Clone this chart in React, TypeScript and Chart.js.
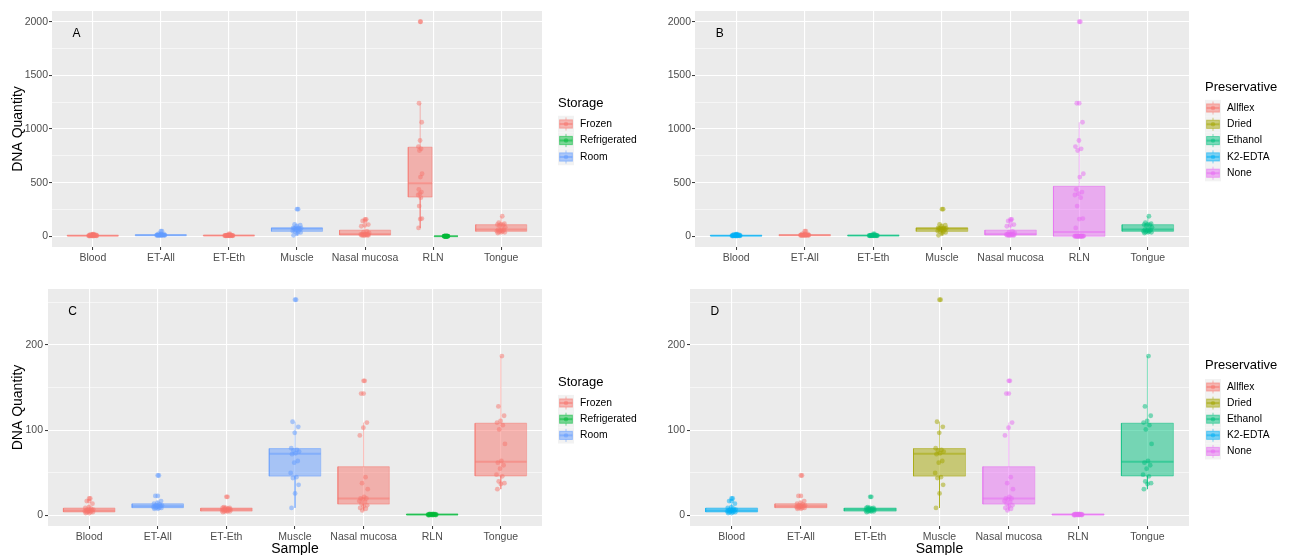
import React, { useEffect, useRef } from 'react';
import { Chart, registerables } from 'chart.js';

Chart.register(...registerables);
Chart.defaults.font.family = '"Liberation Sans", Arial, sans-serif';

// ---------------- data ----------------
const categories = ['Blood', 'ET-All', 'ET-Eth', 'Muscle', 'Nasal mucosa', 'RLN', 'Tongue'];

const bloodValues = [20, 17, 14, 10, 9, 8, 7, 7, 6, 6, 6, 5, 5, 4, 4, 4, 3, 3];
const etAllValues = [47, 23, 17, 15, 14, 13, 12, 12, 11, 11, 11, 10, 10, 9, 9, 9, 8, 8];
const etEthValues = [22, 10, 9, 9, 9, 8, 8, 7, 7, 7, 7, 6, 6, 5, 5, 5, 5, 4];
const muscleValues = [253, 110, 104, 97, 79, 77, 76, 75, 73, 72, 64, 62, 50, 45, 44, 36, 26, 9];
const nasalValues = [158, 143, 109, 103, 94, 45, 38, 31, 22, 20, 20, 19, 17, 16, 14, 12, 11, 9, 8, 6];
const rlnFrozenValues = [2000, 1240, 1063, 893, 836, 815, 800, 583, 552, 437, 412, 397, 385, 360, 282, 165, 161, 78];
const rlnFridgeValues = [2, 2, 1.8, 1.6, 1.5, 1.4, 1.3, 1.2, 1.2, 1.1, 1, 1, 0.9, 0.8, 0.7, 0.6, 0.5, 0.4];
const tongueValues = [187, 128, 117, 111, 109, 106, 101, 84, 64, 62, 59, 55, 48, 46, 40, 38, 37, 31];

const storageLevels = ['Frozen', 'Refrigerated', 'Room'];
const storageColors = ['#F8766D', '#00BA38', '#619CFF'];
const preservativeLevels = ['Allflex', 'Dried', 'Ethanol', 'K2-EDTA', 'None'];
const preservativeColors = ['#F8766D', '#A3A500', '#00BF7D', '#00B0F6', '#E76BF3'];

const yTicksFull = [0, 250, 500, 750, 1000, 1250, 1500, 1750, 2000];
const yTicksZoom = [0, 50, 100, 150, 200, 250];

// ---------------- helpers ----------------
type Group = { cat: number; dodge: number; width: number; color: string; values: number[] };

function rgba(hex: string, a: number) {
  const n = parseInt(hex.slice(1), 16);
  return `rgba(${(n >> 16) & 255},${(n >> 8) & 255},${n & 255},${a})`;
}

function quantile(s: number[], p: number) {
  const h = (s.length - 1) * p;
  const lo = Math.floor(h);
  const hi = Math.min(lo + 1, s.length - 1);
  return s[lo] + (h - lo) * (s[hi] - s[lo]);
}

function boxStats(values: number[]) {
  const s = [...values].sort((a, b) => a - b);
  const q1 = quantile(s, 0.25);
  const med = quantile(s, 0.5);
  const q3 = quantile(s, 0.75);
  const iqr = q3 - q1;
  const lf = q1 - 1.5 * iqr;
  const hf = q3 + 1.5 * iqr;
  const inside = s.filter((v) => v >= lf && v <= hf);
  return {
    q1, med, q3,
    lo: inside[0],
    hi: inside[inside.length - 1],
    outliers: s.filter((v) => v < lf || v > hf),
  };
}

function jitter(i: number, spread: number) {
  const f = ((i + 1) * 0.6180339887) % 1;
  return (f * 2 - 1) * spread;
}

function groupDatasets(g: Group) {
  const st = boxStats(g.values);
  const c = g.cat + g.dodge;
  const h = g.width / 2;
  const col = rgba(g.color, 0.5);
  const gap = { x: c, y: null as any };
  const spread = g.width * 0.09;
  return [
    {
      type: 'line', order: 4,
      data: [{ x: c - h, y: st.q3 }, { x: c + h, y: st.q3 }],
      fill: { value: st.q1 }, backgroundColor: col,
      borderColor: 'rgba(0,0,0,0)', borderWidth: 0, pointRadius: 0,
    },
    {
      type: 'line', order: 3,
      data: [
        { x: c - h, y: st.q1 }, { x: c + h, y: st.q1 }, { x: c + h, y: st.q3 }, { x: c - h, y: st.q3 }, { x: c - h, y: st.q1 },
        gap,
        { x: c, y: st.q3 }, { x: c, y: st.hi },
        gap,
        { x: c, y: st.q1 }, { x: c, y: st.lo },
      ],
      fill: false, borderColor: col, borderWidth: 1, pointRadius: 0, spanGaps: false,
    },
    {
      type: 'line', order: 2,
      data: [{ x: c - h, y: st.med }, { x: c + h, y: st.med }],
      fill: false, borderColor: col, borderWidth: 2, pointRadius: 0,
    },
    {
      type: 'line', order: 1, showLine: false,
      data: st.outliers.map((v) => ({ x: c, y: v })),
      pointRadius: 2.4, pointBackgroundColor: col, pointBorderWidth: 0, pointBorderColor: 'rgba(0,0,0,0)',
    },
    {
      type: 'line', order: 0, showLine: false,
      data: g.values.map((v, i) => ({ x: c + jitter(i, spread), y: v })),
      pointRadius: 2.4, pointBackgroundColor: col, pointBorderWidth: 0, pointBorderColor: 'rgba(0,0,0,0)',
    },
  ];
}

const full = 0.75;
const groupsA: Group[] = [
  { cat: 1, dodge: 0, width: full, color: storageColors[0], values: bloodValues },
  { cat: 2, dodge: 0, width: full, color: storageColors[2], values: etAllValues },
  { cat: 3, dodge: 0, width: full, color: storageColors[0], values: etEthValues },
  { cat: 4, dodge: 0, width: full, color: storageColors[2], values: muscleValues },
  { cat: 5, dodge: 0, width: full, color: storageColors[0], values: nasalValues },
  { cat: 6, dodge: -0.19, width: 0.35, color: storageColors[0], values: rlnFrozenValues },
  { cat: 6, dodge: 0.19, width: 0.35, color: storageColors[1], values: rlnFridgeValues },
  { cat: 7, dodge: 0, width: full, color: storageColors[0], values: tongueValues },
];
const groupsB: Group[] = [
  { cat: 1, dodge: 0, width: full, color: preservativeColors[3], values: bloodValues },
  { cat: 2, dodge: 0, width: full, color: preservativeColors[0], values: etAllValues },
  { cat: 3, dodge: 0, width: full, color: preservativeColors[2], values: etEthValues },
  { cat: 4, dodge: 0, width: full, color: preservativeColors[1], values: muscleValues },
  { cat: 5, dodge: 0, width: full, color: preservativeColors[4], values: nasalValues },
  { cat: 6, dodge: 0, width: full, color: preservativeColors[4], values: [...rlnFrozenValues, ...rlnFridgeValues] },
  { cat: 7, dodge: 0, width: full, color: preservativeColors[2], values: tongueValues },
];
const groupsC: Group[] = groupsA
  .filter((g) => g.values !== rlnFrozenValues)
  .map((g) => (g.values === rlnFridgeValues ? { ...g, dodge: 0, width: full } : g));
const groupsD: Group[] = groupsB.map((g) => (g.cat === 6 ? { ...g, values: rlnFridgeValues } : g));

type Panel = {
  letter: string; x: number; y: number; w: number; h: number;
  yAxisWidth: number; xAxisHeight: number; padTop: number; padRight: number;
  groups: Group[]; yTicks: number[]; majorStep: number; yFont: number; yPad: number;
  yTitle: boolean; xTitle: boolean;
  legend: { title: string; levels: string[]; colors: string[]; x: number; labelX: number; titleY: number; keyY0: number; keyStep: number };
};

const panels: Panel[] = [
  {
    letter: 'A', x: 0, y: 0, w: 645, h: 277, yAxisWidth: 52, xAxisHeight: 30, padTop: 11, padRight: 103,
    groups: groupsA, yTicks: yTicksFull, majorStep: 500, yFont: 10.5, yPad: 1, yTitle: true, xTitle: false,
    legend: { title: 'Storage', levels: storageLevels, colors: storageColors, x: 558, labelX: 580, titleY: 103.5, keyY0: 124, keyStep: 16.5 },
  },
  {
    letter: 'B', x: 645, y: 0, w: 648, h: 277, yAxisWidth: 50, xAxisHeight: 30, padTop: 11, padRight: 104,
    groups: groupsB, yTicks: yTicksFull, majorStep: 500, yFont: 10.5, yPad: 1, yTitle: false, xTitle: false,
    legend: { title: 'Preservative', levels: preservativeLevels, colors: preservativeColors, x: 560, labelX: 582, titleY: 87, keyY0: 108, keyStep: 16.3 },
  },
  {
    letter: 'C', x: 0, y: 277, w: 645, h: 290, yAxisWidth: 48, xAxisHeight: 41, padTop: 12, padRight: 103,
    groups: groupsC, yTicks: yTicksZoom, majorStep: 100, yFont: 10.5, yPad: 2, yTitle: true, xTitle: true,
    legend: { title: 'Storage', levels: storageLevels, colors: storageColors, x: 558, labelX: 580, titleY: 105, keyY0: 126, keyStep: 16.2 },
  },
  {
    letter: 'D', x: 645, y: 277, w: 648, h: 290, yAxisWidth: 45, xAxisHeight: 41, padTop: 12, padRight: 104,
    groups: groupsD, yTicks: yTicksZoom, majorStep: 100, yFont: 10.5, yPad: 2, yTitle: false, xTitle: true,
    legend: { title: 'Preservative', levels: preservativeLevels, colors: preservativeColors, x: 560, labelX: 582, titleY: 88, keyY0: 110, keyStep: 16.1 },
  },
];

const FONT = '"Liberation Sans", Arial, sans-serif';

function drawLegend(ctx: CanvasRenderingContext2D, lg: Panel['legend']) {
  ctx.save();
  ctx.textAlign = 'left';
  ctx.textBaseline = 'middle';
  ctx.fillStyle = '#000';
  ctx.font = `13px ${FONT}`;
  ctx.fillText(lg.title, lg.x, lg.titleY);
  const kw = 16;
  lg.levels.forEach((lab, i) => {
    const kh = lg.keyStep;
    const cy = lg.keyY0 + i * kh;
    const kx = lg.x;
    ctx.fillStyle = '#F2F2F2';
    ctx.fillRect(kx, cy - kh / 2, kw, kh);
    const col = rgba(lg.colors[i], 0.5);
    ctx.strokeStyle = col;
    ctx.lineWidth = 1;
    ctx.beginPath();
    ctx.moveTo(kx + kw / 2, cy - kh * 0.4);
    ctx.lineTo(kx + kw / 2, cy - kh * 0.25);
    ctx.moveTo(kx + kw / 2, cy + kh * 0.25);
    ctx.lineTo(kx + kw / 2, cy + kh * 0.4);
    ctx.stroke();
    ctx.fillStyle = col;
    ctx.fillRect(kx + kw * 0.1, cy - kh * 0.25, kw * 0.8, kh * 0.5);
    ctx.strokeRect(kx + kw * 0.1, cy - kh * 0.25, kw * 0.8, kh * 0.5);
    ctx.lineWidth = 2;
    ctx.beginPath();
    ctx.moveTo(kx + kw * 0.1, cy);
    ctx.lineTo(kx + kw * 0.9, cy);
    ctx.stroke();
    ctx.beginPath();
    ctx.arc(kx + kw / 2, cy, 2.2, 0, Math.PI * 2);
    ctx.fill();
    ctx.fillStyle = '#000';
    ctx.font = `10.3px ${FONT}`;
    ctx.fillText(lab, lg.labelX, cy);
  });
  ctx.restore();
}

function buildConfig(p: Panel): any {
  const datasets = p.groups.flatMap((g) => groupDatasets(g));
  const all = p.groups.flatMap((g) => g.values);
  const dmin = Math.min(...all);
  const dmax = Math.max(...all);
  const yMin = dmin - 0.05 * (dmax - dmin);
  const yMax = dmax + 0.05 * (dmax - dmin);
  const isMajor = (v: number) => Math.abs(v % p.majorStep) < 1e-9;

  const decor = {
    id: 'decor' + p.letter,
    beforeDraw(chart: any) {
      const { ctx, chartArea: a } = chart;
      ctx.save();
      ctx.fillStyle = '#FFFFFF';
      ctx.fillRect(0, 0, chart.width, chart.height);
      ctx.fillStyle = '#EBEBEB';
      ctx.fillRect(a.left, a.top, a.right - a.left, a.bottom - a.top);
      ctx.restore();
    },
    afterDraw(chart: any) {
      const { ctx } = chart;
      const xs = chart.scales.x;
      const ys = chart.scales.y;
      ctx.save();
      ctx.fillStyle = '#000';
      ctx.font = `12px ${FONT}`;
      ctx.textAlign = 'center';
      ctx.textBaseline = 'middle';
      ctx.fillText(p.letter, xs.getPixelForValue(0.76), ys.getPixelForValue(yMax - 0.0975 * (yMax - yMin)));
      ctx.restore();
      drawLegend(ctx, p.legend);
    },
  };

  return {
    type: 'line',
    data: { datasets },
    options: {
      animation: false,
      responsive: false,
      events: [],
      layout: { padding: { left: 0, top: p.padTop, right: p.padRight, bottom: 0 } },
      plugins: { legend: { display: false }, tooltip: { enabled: false } },
      scales: {
        x: {
          type: 'linear', min: 0.4, max: 7.6,
          afterBuildTicks: (s: any) => { s.ticks = categories.map((_, i) => ({ value: i + 1 })); },
          afterFit: (s: any) => { s.height = p.xAxisHeight; },
          ticks: {
            callback: (v: number) => categories[Math.round(v) - 1] ?? '',
            autoSkip: false, maxRotation: 0, minRotation: 0,
            color: '#4D4D4D', font: { size: 10.5 }, padding: 2,
          },
          grid: { color: '#FFFFFF', lineWidth: 1.1, tickColor: '#333333', tickLength: 3, tickWidth: 1 },
          border: { display: false },
          title: p.xTitle
            ? { display: true, text: 'Sample', color: '#000', font: { size: 14 }, padding: { top: 0, bottom: 9 } }
            : { display: false },
        },
        y: {
          type: 'linear', min: yMin, max: yMax,
          afterBuildTicks: (s: any) => { s.ticks = p.yTicks.map((v) => ({ value: v })); },
          afterFit: (s: any) => { s.width = p.yAxisWidth; },
          ticks: {
            callback: (v: number) => (isMajor(v) ? String(v) : ''),
            color: '#4D4D4D', font: { size: p.yFont }, padding: p.yPad,
          },
          grid: {
            color: '#FFFFFF',
            lineWidth: (c: any) => (c.tick && isMajor(c.tick.value) ? 1.1 : 0.55),
            tickColor: (c: any) => (c.tick && isMajor(c.tick.value) ? '#333333' : 'rgba(0,0,0,0)'),
            tickLength: 3, tickWidth: 1,
          },
          border: { display: false },
          title: p.yTitle
            ? { display: true, text: 'DNA Quantity', color: '#000', font: { size: 14 }, padding: { top: 9.6, bottom: 0 } }
            : { display: false },
        },
      },
    },
    plugins: [decor],
  };
}

export default function App() {
  const refs = useRef<(HTMLCanvasElement | null)[]>([]);
  useEffect(() => {
    const charts = panels.map((p, i) => new Chart(refs.current[i] as HTMLCanvasElement, buildConfig(p)));
    return () => charts.forEach((c) => c.destroy());
  }, []);
  return (
    <div style={{ position: 'absolute', left: 0, top: 0, width: 1293, height: 555, overflow: 'hidden', background: '#FFFFFF' }}>
      {panels.map((p, i) => (
        <canvas
          key={p.letter}
          ref={(el) => { refs.current[i] = el; }}
          width={p.w}
          height={p.h}
          style={{ position: 'absolute', left: p.x, top: p.y, width: p.w, height: p.h }}
        />
      ))}
    </div>
  );
}
